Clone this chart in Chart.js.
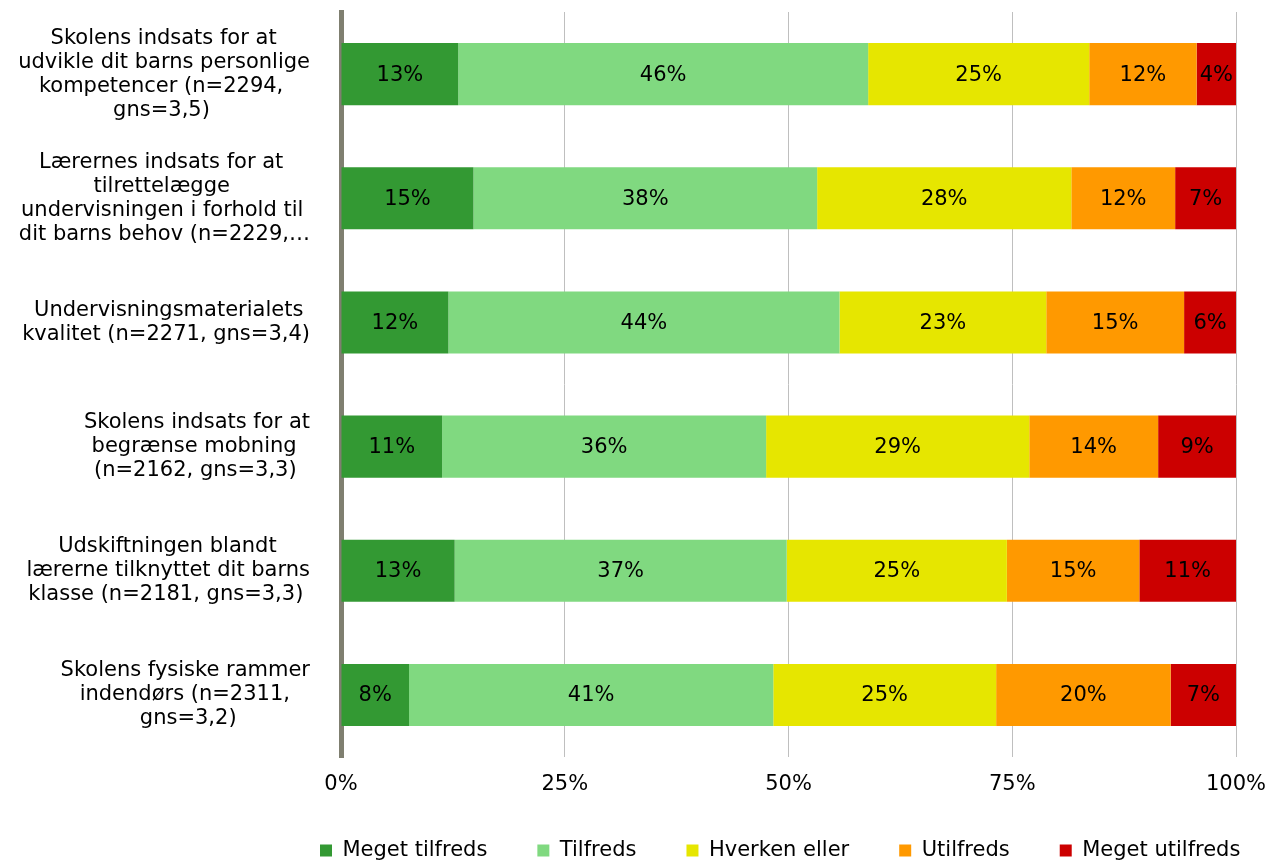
<!DOCTYPE html>
<html>
<head>
<meta charset="utf-8">
<script src="https://cdn.jsdelivr.net/npm/chart.js@4/dist/chart.umd.min.js"></script>
<style>
  html, body { margin: 0; padding: 0; background: #fff; overflow: hidden; }
  canvas { display: block; }
</style>
</head>
<body>
<canvas id="myChart" width="1270" height="871"></canvas>
<script>
// categories (wrapped the same way as the original)
const categories = [
    ['Skolens indsats for at', 'udvikle dit barns personlige', 'kompetencer (n=2294,', 'gns=3,5)'],
    ['Lærernes indsats for at', 'tilrettelægge', 'undervisningen i forhold til', 'dit barns behov (n=2229,…'],
    ['Undervisningsmaterialets', 'kvalitet (n=2271, gns=3,4)'],
    ['Skolens indsats for at', 'begrænse mobning', '(n=2162, gns=3,3)'],
    ['Udskiftningen blandt', 'lærerne tilknyttet dit barns', 'klasse (n=2181, gns=3,3)'],
    ['Skolens fysiske rammer', 'indendørs (n=2311,', 'gns=3,2)']
];
const seriesNames = ['Meget tilfreds', 'Tilfreds', 'Hverken eller', 'Utilfreds', 'Meget utilfreds'];

// shares in percent
const megetTilfreds = [13.1, 14.8, 12.0, 11.3, 12.7, 7.6];
const tilfreds = [45.8, 38.4, 43.7, 36.2, 37.1, 40.7];
const hverkenEller = [24.7, 28.4, 23.1, 29.4, 24.6, 24.9];
const utilfreds = [12.0, 11.6, 15.4, 14.4, 14.8, 19.5];
const megetUtilfreds = [4.4, 6.8, 5.8, 8.7, 10.8, 7.3];

const xTicks = [0, 25, 50, 75, 100];

const colors = ['#339933', '#80d980', '#e6e600', '#ff9900', '#cc0000'];
const FONT = 'DejaVu Sans';

// center each line inside its block, block right-aligned against the axis
const measure = document.createElement('canvas').getContext('2d');
measure.font = '21px "' + FONT + '"';
function centerLines(lines) {
    const ws = lines.map(l => measure.measureText(l).width);
    const max = Math.max(...ws);
    const sp = measure.measureText(' ').width;
    return lines.map((l, i) => l + ' '.repeat(Math.round((max - ws[i]) / 2 / sp)));
}

// percent labels inside the bars
const barLabels = {
    id: 'barLabels',
    afterDatasetsDraw(chart) {
        const ctx = chart.ctx;
        ctx.save();
        ctx.font = '21px "' + FONT + '"';
        ctx.fillStyle = '#000';
        ctx.textAlign = 'center';
        ctx.textBaseline = 'middle';
        chart.data.datasets.forEach((ds, i) => {
            chart.getDatasetMeta(i).data.forEach((bar, j) => {
                const p = bar.getCenterPoint();
                ctx.fillText(Math.round(ds.data[j]) + '%', p.x, p.y + 1);
            });
        });
        ctx.restore();
    }
};

// legend row starts under the plot, like the original
const legendShift = {
    id: 'legendShift',
    afterLayout(chart) {
        chart.legend.left = 270;
        chart.legend.right = chart.width + 300;
    }
};

const allSeries = [megetTilfreds, tilfreds, hverkenEller, utilfreds, megetUtilfreds];

const ctx = document.getElementById('myChart').getContext('2d');
const myChart = new Chart(ctx, {
    type: 'bar',
    data: {
        labels: categories,
        datasets: allSeries.map((vals, i) => ({
            label: seriesNames[i],
            data: vals,
            backgroundColor: colors[i],
            borderWidth: 0,
            categoryPercentage: 1,
            barPercentage: 0.5
        }))
    },
    options: {
        indexAxis: 'y',
        responsive: false,
        animation: false,
        devicePixelRatio: 1,
        layout: { padding: { left: 0, top: 12, right: -20, bottom: 0 } },
        scales: {
            x: {
                stacked: true,
                min: 0,
                max: 100,
                afterBuildTicks(s) { s.ticks = xTicks.map(v => ({ value: v })); },
                afterFit(s) { s.paddingLeft = 0; s.paddingRight = 34; s.height = 33; },
                grid: { color: '#bfbfbf', lineWidth: 1, drawTicks: false },
                border: { display: false },
                ticks: {
                    padding: 15,
                    color: '#000',
                    font: { family: FONT, size: 21 },
                    callback: v => v + '%'
                }
            },
            y: {
                stacked: true,
                z: 1,
                afterFit(s) { s.width = 341; s.paddingTop = 0; s.paddingBottom = 0; },
                grid: { display: false, drawTicks: false },
                border: { display: true, color: '#7f7f70', width: 5 },
                ticks: {
                    padding: 31,
                    color: '#000',
                    crossAlign: 'near',
                    font: { family: FONT, size: 21, lineHeight: 24 / 21 },
                    callback: function (v, i) { return centerLines(categories[i]); }
                }
            }
        },
        plugins: {
            tooltip: { enabled: false },
            legend: {
                position: 'bottom',
                align: 'start',
                labels: {
                    boxWidth: 12,
                    boxHeight: 12,
                    padding: 50,
                    color: '#000',
                    font: { family: FONT, size: 21 }
                }
            }
        }
    },
    plugins: [barLabels, legendShift]
});
</script>
</body>
</html>
